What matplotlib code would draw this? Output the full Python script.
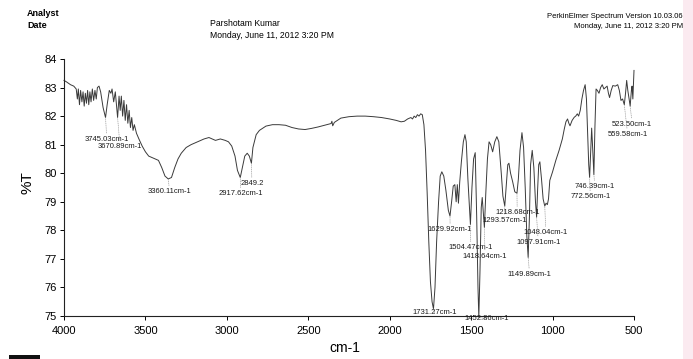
import matplotlib
matplotlib.use("Agg")
import matplotlib.pyplot as plt
from matplotlib.patches import Rectangle

FONT = ["Liberation Sans Narrow", "Liberation Sans", "DejaVu Sans"]
plt.rcParams["font.family"] = FONT

# ---------------- data ----------------
wavenumber = [
    4000, 3985, 3960, 3940, 3925, 3918, 3912, 3905, 3898, 3890, 3883, 3876, 3869, 3862,
    3855, 3848, 3841, 3834, 3826, 3818, 3810, 3802, 3795, 3785, 3775, 3760, 3745.03, 3735,
    3722, 3712, 3705, 3695, 3685, 3670.89, 3662, 3655, 3648, 3640, 3632, 3624, 3616, 3608,
    3600, 3592, 3584, 3576, 3568, 3555, 3540, 3520, 3500, 3480, 3460, 3440, 3420, 3400,
    3380, 3360.11, 3340, 3320, 3300, 3280, 3250, 3220, 3180, 3140, 3110, 3090, 3070, 3040,
    3010, 2990, 2970, 2950, 2935, 2917.62, 2905, 2890, 2875, 2862, 2849.2, 2840, 2820, 2800,
    2760, 2720, 2680, 2640, 2600, 2560, 2520, 2480, 2440, 2400, 2360, 2355, 2350, 2340,
    2300, 2250, 2200, 2150, 2100, 2050, 2000, 1960, 1930, 1910, 1890, 1870, 1860, 1850,
    1840, 1830, 1820, 1810, 1800, 1790, 1780, 1770, 1760, 1750, 1740, 1731.27, 1722, 1712,
    1700, 1690, 1680, 1668, 1655, 1640, 1629.92, 1620, 1610, 1600, 1592, 1585, 1578, 1570,
    1560, 1548, 1538, 1530, 1520, 1504.47, 1495, 1485, 1475, 1466, 1458, 1452.86, 1446, 1438,
    1432, 1425, 1418.64, 1410, 1400, 1390, 1380, 1368, 1355, 1342, 1330, 1315, 1305, 1293.57,
    1285, 1275, 1268, 1258, 1245, 1232, 1218.68, 1210, 1200, 1188, 1178, 1168, 1158, 1149.89,
    1142, 1135, 1125, 1115, 1105, 1097.91, 1092, 1085, 1078, 1068, 1058, 1048.04, 1040, 1032,
    1025, 1017, 1000, 980, 960, 940, 928, 918, 908, 900, 893, 880, 867, 858,
    848, 840, 830, 820, 810, 800, 792, 785, 778, 772.56, 766, 760, 754, 746.39,
    740, 733, 725, 715, 705, 695, 685, 675, 665, 657, 650, 640, 630, 615,
    600, 590, 580, 570, 559.58, 552, 545, 538, 530, 523.50, 516, 512, 507, 503,
    500,
]
transmittance = [
    83.25, 83.2, 83.1, 83.05, 82.95, 82.6, 82.95, 82.4, 82.9, 82.5, 82.85, 82.35, 82.8, 82.45,
    82.9, 82.4, 82.85, 82.5, 82.95, 82.55, 82.9, 82.6, 83.0, 83.05, 82.85, 82.3, 81.95, 82.4,
    82.9, 82.8, 82.95, 82.5, 82.85, 81.95, 82.7, 82.2, 82.7, 82.0, 82.55, 81.85, 82.4, 81.75,
    82.2, 81.6, 81.95, 81.5, 81.7, 81.4, 81.2, 80.95, 80.75, 80.6, 80.55, 80.5, 80.45, 80.2,
    79.9, 79.8, 79.85, 80.2, 80.5, 80.7, 80.9, 81.0, 81.1, 81.2, 81.25, 81.2, 81.15, 81.2,
    81.15, 81.1, 80.95, 80.6, 80.1, 79.85, 80.2, 80.6, 80.7, 80.6, 80.35, 80.9, 81.35, 81.5,
    81.65, 81.7, 81.7, 81.68, 81.6, 81.55, 81.53, 81.57, 81.62, 81.68, 81.74, 81.82, 81.66, 81.78,
    81.93, 81.98, 82.0, 82.0, 81.98, 81.95, 81.9, 81.85, 81.8, 81.82, 81.9, 81.95, 81.9, 82.0,
    81.95, 82.05, 82.0, 82.08, 82.05, 81.7, 80.8, 79.3, 77.6, 76.2, 75.5, 75.25, 76.0, 77.6,
    79.0, 79.9, 80.05, 79.9, 79.4, 78.7, 78.5, 79.0, 79.55, 79.6, 79.0, 79.6, 78.95, 79.7,
    80.4, 81.1, 81.35, 81.1, 79.8, 78.2, 79.5, 80.5, 80.72, 78.5, 76.0, 74.95, 76.5, 78.8,
    79.15, 78.6, 78.1, 79.3, 80.5, 81.1, 81.0, 80.75, 81.1, 81.28, 81.1, 80.0, 79.2, 78.85,
    79.5, 80.3, 80.35, 80.0, 79.7, 79.35, 79.3, 79.8, 80.8, 81.42, 80.9, 79.5, 77.8, 77.05,
    78.5, 80.3, 80.8, 80.2, 79.0, 78.46, 79.4, 80.3, 80.4, 79.8, 79.1, 78.85, 78.95, 78.9,
    79.1, 79.75, 80.05, 80.45, 80.8, 81.2, 81.55, 81.8, 81.9, 81.75, 81.66, 81.85, 81.96, 82.0,
    82.08, 82.0, 82.2, 82.6, 82.9, 83.1, 82.6, 81.5, 80.3, 79.85, 80.8, 81.58, 80.9, 79.95,
    81.6, 82.95, 82.9, 82.8, 83.0, 83.1, 82.95, 83.0, 83.05, 82.8, 82.65, 82.9, 83.07, 83.05,
    83.1, 82.9, 82.55, 82.6, 82.4, 82.8, 83.25, 82.9, 82.6, 82.35, 82.9, 83.05, 82.6, 83.2,
    83.6,
]

# peak labels: band position, %T at band, label position, text
peak_wn = [3745.03, 3670.89, 3360.11, 2849.2, 2917.62, 1731.27, 1452.86, 1629.92,
           1504.47, 1418.64, 1293.57, 1218.68, 1048.04, 1097.91, 1149.89, 746.39,
           772.56, 523.50, 559.58]
peak_T = [81.95, 81.95, 79.8, 80.35, 79.85, 75.25, 74.95, 78.5,
          78.2, 78.1, 78.85, 79.3, 78.85, 78.46, 77.05, 79.95,
          79.85, 82.35, 82.4]
label_x = [3737, 3656, 3351, 2846, 2916, 1724, 1405, 1629,
           1502, 1415, 1295, 1217, 1041, 1088, 1141, 740,
           768, 511, 539]
label_y = [81.19, 80.93, 79.35, 79.64, 79.28, 75.12, 74.9, 78.03,
           77.39, 77.10, 78.35, 78.62, 77.92, 77.59, 76.46, 79.53,
           79.17, 81.72, 81.36]
peak_text = ["3745.03cm-1", "3670.89cm-1", "3360.11cm-1", "2849.2", "2917.62cm-1",
             "1731.27cm-1", "1452.86cm-1", "1629.92cm-1", "1504.47cm-1", "1418.64cm-1",
             "1293.57cm-1", "1218.68cm-1", "1048.04cm-1", "1097.91cm-1", "1149.89cm-1",
             "746.39cm-1", "772.56cm-1", "523.50cm-1", "559.58cm-1"]

x_ticks = [4000, 3500, 3000, 2500, 2000, 1500, 1000, 500]
y_ticks = [75, 76, 77, 78, 79, 80, 81, 82, 83, 84]

# ---------------- figure ----------------
W, H = 693, 359
fig = plt.figure(figsize=(W / 100, H / 100), dpi=100)
fig.patch.set_facecolor("white")

ax = fig.add_axes([64 / W, 1 - 316 / H, 570 / W, 257 / H])
ax.plot(wavenumber, transmittance, color="#3a3a3a", lw=0.7, clip_on=False)
ax.set_xlim(4000, 500)
ax.set_ylim(75, 84)
ax.set_xticks(x_ticks)
ax.set_yticks(y_ticks)
ax.tick_params(axis="both", direction="out", length=3, width=0.7, labelsize=8, pad=2)
ax.tick_params(axis="x", pad=4)
for s in ("top", "right"):
    ax.spines[s].set_visible(False)
for s in ("left", "bottom"):
    ax.spines[s].set_linewidth(0.8)
    ax.spines[s].set_color("#222222")

for wn, t, lx, ly, txt in zip(peak_wn, peak_T, label_x, label_y, peak_text):
    ax.annotate(txt, xy=(wn, t), xytext=(lx, ly), fontsize=5.5, ha="center", va="center",
                color="#1a1a1a", annotation_clip=False,
                arrowprops=dict(arrowstyle="-", ls=":", lw=0.5, color="#9a9a9a",
                                shrinkA=0, shrinkB=0))

fig.text(27 / W, 1 - 183 / H, "%T", fontsize=11, rotation=90, ha="center", va="center")
fig.text(345 / W, 1 - 348 / H, "cm-1", fontsize=10, ha="center", va="center")

# header texts
fig.text(27 / W, 1 - 13 / H, "Analyst", fontsize=6.5, fontweight="bold", va="center")
fig.text(27 / W, 1 - 26 / H, "Date", fontsize=6.5, fontweight="bold", va="center")
fig.text(210 / W, 1 - 23 / H, "Parshotam Kumar", fontsize=6.2, va="center")
fig.text(210 / W, 1 - 36 / H, "Monday, June 11, 2012 3:20 PM", fontsize=6.2, va="center")
fig.text(683 / W, 1 - 16 / H, "PerkinElmer Spectrum Version 10.03.06", fontsize=5.5,
         ha="right", va="center")
fig.text(683 / W, 1 - 27 / H, "Monday, June 11, 2012 3:20 PM", fontsize=5.5,
         ha="right", va="center")

# scan artefacts: pink edge strip and dark bar bottom-left
fig.patches.append(Rectangle((683 / W, 0), 10 / W, 1, transform=fig.transFigure,
                             facecolor="#fbeaf0", edgecolor="none"))
fig.patches.append(Rectangle((9 / W, 0), 31 / W, 4 / H, transform=fig.transFigure,
                             facecolor="#111111", edgecolor="none"))

fig.savefig("out.png", dpi=100)
